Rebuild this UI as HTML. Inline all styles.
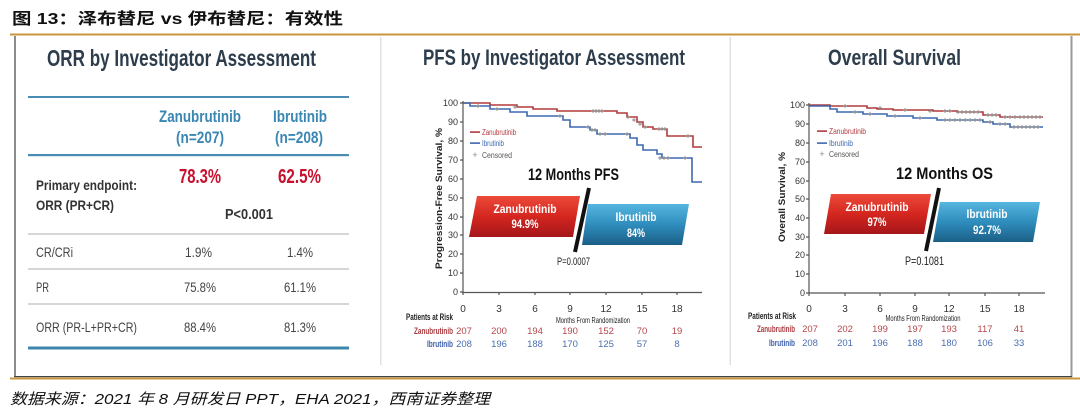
<!DOCTYPE html>
<html><head><meta charset="utf-8"><style>
html,body{margin:0;padding:0;background:#fff;}
svg{display:block;}
text{font-family:"Liberation Sans","Noto Sans CJK SC",sans-serif;}
</style></head><body>
<svg width="1080" height="417" viewBox="0 0 1080 417" xmlns="http://www.w3.org/2000/svg">
<defs>
<linearGradient id="rg" x1="0" y1="0" x2="0" y2="1"><stop offset="0" stop-color="#ec4a3a"/><stop offset="0.5" stop-color="#d4261f"/><stop offset="1" stop-color="#a5161a"/></linearGradient>
<linearGradient id="bg" x1="0" y1="0" x2="0" y2="1"><stop offset="0" stop-color="#56b6df"/><stop offset="0.5" stop-color="#2f8dbd"/><stop offset="1" stop-color="#1b5f86"/></linearGradient>
</defs>

<!-- Title -->
<text x="12" y="24" font-size="16" font-weight="bold" fill="#111" textLength="331" lengthAdjust="spacingAndGlyphs">图 13：泽布替尼 vs 伊布替尼：有效性</text>

<!-- frame -->
<rect x="10" y="33.5" width="1070" height="2" fill="#c8963e"/>
<rect x="14" y="36" width="2" height="341" fill="#8c8c8c"/>
<rect x="1070.5" y="36" width="2" height="341" fill="#9a9a9a"/>
<rect x="14" y="376" width="1058" height="1.2" fill="#444"/>
<rect x="10" y="377.5" width="1070" height="2" fill="#c8963e"/>
<rect x="380" y="37" width="1.5" height="328" fill="#dce1e6"/>
<rect x="729.5" y="37" width="1.5" height="328" fill="#dce1e6"/>

<!-- Source -->
<text x="10" y="404" font-size="15" font-style="italic" fill="#111" textLength="480" lengthAdjust="spacingAndGlyphs">数据来源：2021 年 8 月研发日 PPT，EHA 2021，西南证券整理</text>

<!-- ===== Left panel: ORR table ===== -->
<text x="47" y="66" font-size="23" font-weight="bold" fill="#2e3d4c" textLength="269" lengthAdjust="spacingAndGlyphs">ORR by Investigator Assessment</text>
<rect x="28" y="96" width="321" height="2" fill="#4a8db4"/>
<text x="159" y="122" font-size="17" font-weight="bold" fill="#3a87b4" textLength="82" lengthAdjust="spacingAndGlyphs">Zanubrutinib</text>
<text x="176" y="143" font-size="17" font-weight="bold" fill="#3a87b4" textLength="48" lengthAdjust="spacingAndGlyphs">(n=207)</text>
<text x="273" y="122" font-size="17" font-weight="bold" fill="#3a87b4" textLength="54" lengthAdjust="spacingAndGlyphs">Ibrutinib</text>
<text x="275" y="143" font-size="17" font-weight="bold" fill="#3a87b4" textLength="48" lengthAdjust="spacingAndGlyphs">(n=208)</text>
<rect x="28" y="154" width="321" height="2.2" fill="#4a8db4"/>
<text x="179" y="183" font-size="20" font-weight="bold" fill="#c8102e" textLength="42" lengthAdjust="spacingAndGlyphs">78.3%</text>
<text x="278" y="183" font-size="20" font-weight="bold" fill="#c8102e" textLength="43" lengthAdjust="spacingAndGlyphs">62.5%</text>
<text x="36" y="190" font-size="14" font-weight="bold" fill="#333" textLength="101" lengthAdjust="spacingAndGlyphs">Primary endpoint:</text>
<text x="36" y="210" font-size="14" font-weight="bold" fill="#333" textLength="78" lengthAdjust="spacingAndGlyphs">ORR (PR+CR)</text>
<text x="225" y="219" font-size="15" font-weight="bold" fill="#333" textLength="48" lengthAdjust="spacingAndGlyphs">P&lt;0.001</text>
<rect x="28" y="233" width="321" height="2" fill="#d6d6d6"/>
<text x="36" y="257" font-size="14" fill="#444" textLength="37" lengthAdjust="spacingAndGlyphs">CR/CRi</text>
<text x="185" y="257" font-size="14" fill="#444" textLength="27" lengthAdjust="spacingAndGlyphs">1.9%</text>
<text x="287" y="257" font-size="14" fill="#444" textLength="26" lengthAdjust="spacingAndGlyphs">1.4%</text>
<rect x="28" y="268" width="321" height="2" fill="#d6d6d6"/>
<text x="36" y="292" font-size="14" fill="#444" textLength="13" lengthAdjust="spacingAndGlyphs">PR</text>
<text x="184" y="292" font-size="14" fill="#444" textLength="32" lengthAdjust="spacingAndGlyphs">75.8%</text>
<text x="284" y="292" font-size="14" fill="#444" textLength="32" lengthAdjust="spacingAndGlyphs">61.1%</text>
<rect x="28" y="303" width="321" height="2" fill="#d6d6d6"/>
<text x="36" y="332" font-size="14" fill="#444" textLength="101" lengthAdjust="spacingAndGlyphs">ORR (PR-L+PR+CR)</text>
<text x="184" y="332" font-size="14" fill="#444" textLength="32" lengthAdjust="spacingAndGlyphs">88.4%</text>
<text x="284" y="332" font-size="14" fill="#444" textLength="32" lengthAdjust="spacingAndGlyphs">81.3%</text>
<rect x="28" y="346.5" width="321" height="3" fill="#3f86ad"/>

<!-- ===== Middle panel: PFS ===== -->
<text x="423" y="65" font-size="22" font-weight="bold" fill="#2e3d4c" textLength="262" lengthAdjust="spacingAndGlyphs">PFS by Investigator Assessment</text>
<g stroke="#555" stroke-width="1.2" fill="none">
<path d="M463,101 V292.5 H702"/>
<path d="M460,103 h3 M460,122 h3 M460,141 h3 M460,160 h3 M460,179 h3 M460,198 h3 M460,217 h3 M460,235 h3 M460,254 h3 M460,273 h3 M460,292 h3"/>
<path d="M463,292 v3 M499,292 v3 M535,292 v3 M570,292 v3 M606,292 v3 M642,292 v3 M677,292 v3"/>
</g>
<g font-size="9" fill="#333" text-anchor="end">
<text x="458" y="106">100</text><text x="458" y="125">90</text><text x="458" y="144">80</text><text x="458" y="163">70</text><text x="458" y="182">60</text><text x="458" y="201">50</text><text x="458" y="220">40</text><text x="458" y="238">30</text><text x="458" y="257">20</text><text x="458" y="276">10</text><text x="458" y="295">0</text>
</g>
<g font-size="10" fill="#333" text-anchor="middle">
<text x="463" y="312">0</text><text x="499" y="312">3</text><text x="535" y="312">6</text><text x="570" y="312">9</text><text x="606" y="312">12</text><text x="642" y="312">15</text><text x="677" y="312">18</text>
</g>
<text transform="translate(442,198.5) rotate(-90)" text-anchor="middle" font-size="9" font-weight="bold" fill="#222" textLength="141" lengthAdjust="spacingAndGlyphs">Progression-Free Survival, %</text>
<text x="593" y="323" text-anchor="middle" font-size="8" fill="#222" textLength="74" lengthAdjust="spacingAndGlyphs">Months From Randomization</text>
<!-- curves -->
<path d="M463,103 H490 V105 H517 V107 H533 V109 H557 V111 H617 V113 H627 V117 H637 V122 H643 V127 H653 V129 H667 V136 H693 V147 H702" stroke="#b23a3c" stroke-width="1.6" fill="none"/>
<path d="M463,103 H470 V106 H490 V109 H510 V112 H527 V116 H563 V120 H570 V127 H590 V130 H597 V134 H630 V138 H637 V145 H643 V150 H657 V154 H662 V158 H692 V182 H702" stroke="#3d68b0" stroke-width="1.6" fill="none"/>
<path stroke="#8a8a8a" stroke-width="0.9" fill="none" d="
M513,107h4M515,105v4 M591,111h4M593,109v4 M594,111h4M596,109v4 M597,111h4M599,109v4 M600,111h4M602,109v4
M626,117h4M628,115v4 M632,120h4M634,118v4 M638,124h4M640,122v4 M643,127h4M645,125v4 M657,129h4M659,127v4 M660,129h4M662,127v4 M663,129h4M665,127v4 M686,136h4M688,134v4
M476,106h4M478,104v4 M495,109h4M497,107v4 M558,116h4M560,114v4 M586,127h4M588,125v4 M590,130h4M592,128v4 M593,130h4M595,128v4 M598,134h4M600,132v4 M603,134h4M605,132v4 M625,134h4M627,132v4
M658,158h4M660,156v4 M662,158h4M664,156v4 M666,158h4M668,156v4 M683,158h4M685,156v4"/>
<!-- legend -->
<rect x="470" y="131.3" width="10" height="1.6" fill="#b23a3c"/>
<text x="482" y="135" font-size="8" fill="#b23a3c" textLength="34" lengthAdjust="spacingAndGlyphs">Zanubrutinib</text>
<rect x="470" y="142.3" width="10" height="1.6" fill="#3d68b0"/>
<text x="482" y="146" font-size="8" fill="#3d68b0" textLength="22" lengthAdjust="spacingAndGlyphs">Ibrutinib</text>
<text x="475" y="158" font-size="9" fill="#888" text-anchor="middle">+</text>
<text x="482" y="158" font-size="8" fill="#555" textLength="30" lengthAdjust="spacingAndGlyphs">Censored</text>
<text x="528" y="180" font-size="17" font-weight="bold" fill="#111" textLength="91" lengthAdjust="spacingAndGlyphs">12 Months PFS</text>
<polygon points="477,196 580,196 573,237 469,237" fill="url(#rg)"/>
<polygon points="588,204 689,204 682,245 582,245" fill="url(#bg)"/>
<line x1="589" y1="188" x2="575" y2="252" stroke="#111" stroke-width="4"/>
<text x="525" y="213" text-anchor="middle" font-size="12" font-weight="bold" fill="#fff" textLength="63" lengthAdjust="spacingAndGlyphs">Zanubrutinib</text>
<text x="525" y="228" text-anchor="middle" font-size="12" font-weight="bold" fill="#fff" textLength="27" lengthAdjust="spacingAndGlyphs">94.9%</text>
<text x="636" y="221" text-anchor="middle" font-size="12" font-weight="bold" fill="#fff" textLength="41" lengthAdjust="spacingAndGlyphs">Ibrutinib</text>
<text x="636" y="237" text-anchor="middle" font-size="12" font-weight="bold" fill="#fff" textLength="18" lengthAdjust="spacingAndGlyphs">84%</text>
<text x="557" y="265" font-size="11" fill="#222" textLength="33" lengthAdjust="spacingAndGlyphs">P=0.0007</text>
<!-- risk table -->
<text x="406" y="320" font-size="9" font-weight="bold" fill="#222" textLength="47" lengthAdjust="spacingAndGlyphs">Patients at Risk</text>
<text x="453" y="334" text-anchor="end" font-size="9" font-weight="bold" fill="#a83c40" textLength="39" lengthAdjust="spacingAndGlyphs">Zanubrutinib</text>
<text x="453" y="347" text-anchor="end" font-size="9" font-weight="bold" fill="#3b5ea8" textLength="26" lengthAdjust="spacingAndGlyphs">Ibrutinib</text>
<g font-size="9.5" fill="#b5474b" text-anchor="middle">
<text x="464" y="334">207</text><text x="499" y="334">200</text><text x="535" y="334">194</text><text x="570" y="334">190</text><text x="606" y="334">152</text><text x="642" y="334">70</text><text x="677" y="334">19</text>
</g>
<g font-size="9.5" fill="#4a6fb0" text-anchor="middle">
<text x="464" y="347">208</text><text x="499" y="347">196</text><text x="535" y="347">188</text><text x="570" y="347">170</text><text x="606" y="347">125</text><text x="642" y="347">57</text><text x="677" y="347">8</text>
</g>

<!-- ===== Right panel: OS ===== -->
<text x="828" y="65" font-size="22" font-weight="bold" fill="#2e3d4c" textLength="133" lengthAdjust="spacingAndGlyphs">Overall Survival</text>
<g stroke="#555" stroke-width="1.2" fill="none">
<path d="M809,103 V293 H1045"/>
<path d="M806,105 h3 M806,124 h3 M806,143 h3 M806,162 h3 M806,181 h3 M806,199 h3 M806,218 h3 M806,237 h3 M806,255 h3 M806,274 h3 M806,293 h3"/>
<path d="M809,293 v3 M845,293 v3 M880,293 v3 M915,293 v3 M949,293 v3 M985,293 v3 M1019,293 v3"/>
</g>
<g font-size="9" fill="#333" text-anchor="end">
<text x="805" y="108">100</text><text x="805" y="127">90</text><text x="805" y="146">80</text><text x="805" y="165">70</text><text x="805" y="184">60</text><text x="805" y="202">50</text><text x="805" y="221">40</text><text x="805" y="240">30</text><text x="805" y="258">20</text><text x="805" y="277">10</text><text x="805" y="296">0</text>
</g>
<g font-size="10" fill="#333" text-anchor="middle">
<text x="809" y="312">0</text><text x="845" y="312">3</text><text x="880" y="312">6</text><text x="915" y="312">9</text><text x="949" y="312">12</text><text x="985" y="312">15</text><text x="1019" y="312">18</text>
</g>
<text transform="translate(785,197) rotate(-90)" text-anchor="middle" font-size="9" font-weight="bold" fill="#222" textLength="90" lengthAdjust="spacingAndGlyphs">Overall Survival, %</text>
<text x="923" y="321" text-anchor="middle" font-size="8" fill="#222" textLength="75" lengthAdjust="spacingAndGlyphs">Months From Randomization</text>
<path d="M809,105 H830 V106 H867 V108 H877 V109 H893 V110 H933 V111 H957 V112 H983 V115 H1000 V117 H1043" stroke="#b23a3c" stroke-width="1.6" fill="none"/>
<path d="M809,106 H830 V109 H837 V112 H863 V114 H887 V116 H913 V118 H937 V120 H983 V122 H993 V124 H1010 V127 H1043" stroke="#3d68b0" stroke-width="1.6" fill="none"/>
<path stroke="#8a8a8a" stroke-width="0.9" fill="none" d="
M843,106h4M845,104v4 M878,108h4M880,106v4 M903,110h4M905,108v4 M928,111h4M930,109v4 M943,111h4M945,109v4 M948,111h4M950,109v4
M956,112h4M958,110v4 M960,112h4M962,110v4 M964,112h4M966,110v4 M968,112h4M970,110v4 M972,112h4M974,110v4 M976,112h4M978,110v4
M986,115h4M988,113v4 M990,115h4M992,113v4 M994,115h4M996,113v4 M1003,117h4M1005,115v4 M1008,117h4M1010,115v4 M1013,117h4M1015,115v4
M1018,117h4M1020,115v4 M1022,117h4M1024,115v4 M1026,117h4M1028,115v4 M1030,117h4M1032,115v4 M1034,117h4M1036,115v4 M1038,117h4M1040,115v4
M853,112h4M855,110v4 M868,114h4M870,112v4 M893,116h4M895,114v4 M918,118h4M920,116v4 M943,120h4M945,118v4 M948,120h4M950,118v4
M953,120h4M955,118v4 M958,120h4M960,118v4 M963,120h4M965,118v4 M968,120h4M970,118v4 M973,120h4M975,118v4 M978,120h4M980,118v4
M988,122h4M990,120v4 M998,124h4M1000,122v4 M1003,124h4M1005,122v4 M1012,127h4M1014,125v4 M1016,127h4M1018,125v4 M1020,127h4M1022,125v4
M1024,127h4M1026,125v4 M1028,127h4M1030,125v4 M1032,127h4M1034,125v4 M1036,127h4M1038,125v4"/>
<rect x="817" y="130.3" width="10" height="1.6" fill="#b23a3c"/>
<text x="829" y="134" font-size="8" fill="#b23a3c" textLength="37" lengthAdjust="spacingAndGlyphs">Zanubrutinib</text>
<rect x="817" y="142.3" width="10" height="1.6" fill="#3d68b0"/>
<text x="829" y="146" font-size="8" fill="#3d68b0" textLength="24" lengthAdjust="spacingAndGlyphs">Ibrutinib</text>
<text x="822" y="157" font-size="9" fill="#888" text-anchor="middle">+</text>
<text x="829" y="157" font-size="8" fill="#555" textLength="30" lengthAdjust="spacingAndGlyphs">Censored</text>
<text x="896" y="179" font-size="17" font-weight="bold" fill="#111" textLength="97" lengthAdjust="spacingAndGlyphs">12 Months OS</text>
<polygon points="831,194 931,194 924,234 824,234" fill="url(#rg)"/>
<polygon points="940,202 1040,202 1033,242 933,242" fill="url(#bg)"/>
<line x1="939" y1="188" x2="926" y2="251" stroke="#111" stroke-width="4"/>
<text x="877" y="211" text-anchor="middle" font-size="12" font-weight="bold" fill="#fff" textLength="63" lengthAdjust="spacingAndGlyphs">Zanubrutinib</text>
<text x="877" y="226" text-anchor="middle" font-size="12" font-weight="bold" fill="#fff" textLength="19" lengthAdjust="spacingAndGlyphs">97%</text>
<text x="987" y="218" text-anchor="middle" font-size="12" font-weight="bold" fill="#fff" textLength="41" lengthAdjust="spacingAndGlyphs">Ibrutinib</text>
<text x="987" y="234" text-anchor="middle" font-size="12" font-weight="bold" fill="#fff" textLength="28" lengthAdjust="spacingAndGlyphs">92.7%</text>
<text x="905" y="265" font-size="12" fill="#222" textLength="39" lengthAdjust="spacingAndGlyphs">P=0.1081</text>
<text x="748" y="319" font-size="9" font-weight="bold" fill="#222" textLength="48" lengthAdjust="spacingAndGlyphs">Patients at Risk</text>
<text x="795" y="332" text-anchor="end" font-size="9" font-weight="bold" fill="#a83c40" textLength="38" lengthAdjust="spacingAndGlyphs">Zanubrutinib</text>
<text x="795" y="346" text-anchor="end" font-size="9" font-weight="bold" fill="#3b5ea8" textLength="26" lengthAdjust="spacingAndGlyphs">Ibrutinib</text>
<g font-size="9.5" fill="#b5474b" text-anchor="middle">
<text x="810" y="332">207</text><text x="845" y="332">202</text><text x="880" y="332">199</text><text x="915" y="332">197</text><text x="949" y="332">193</text><text x="985" y="332">117</text><text x="1019" y="332">41</text>
</g>
<g font-size="9.5" fill="#4a6fb0" text-anchor="middle">
<text x="810" y="346">208</text><text x="845" y="346">201</text><text x="880" y="346">196</text><text x="915" y="346">188</text><text x="949" y="346">180</text><text x="985" y="346">106</text><text x="1019" y="346">33</text>
</g>
</svg>
</body></html>
